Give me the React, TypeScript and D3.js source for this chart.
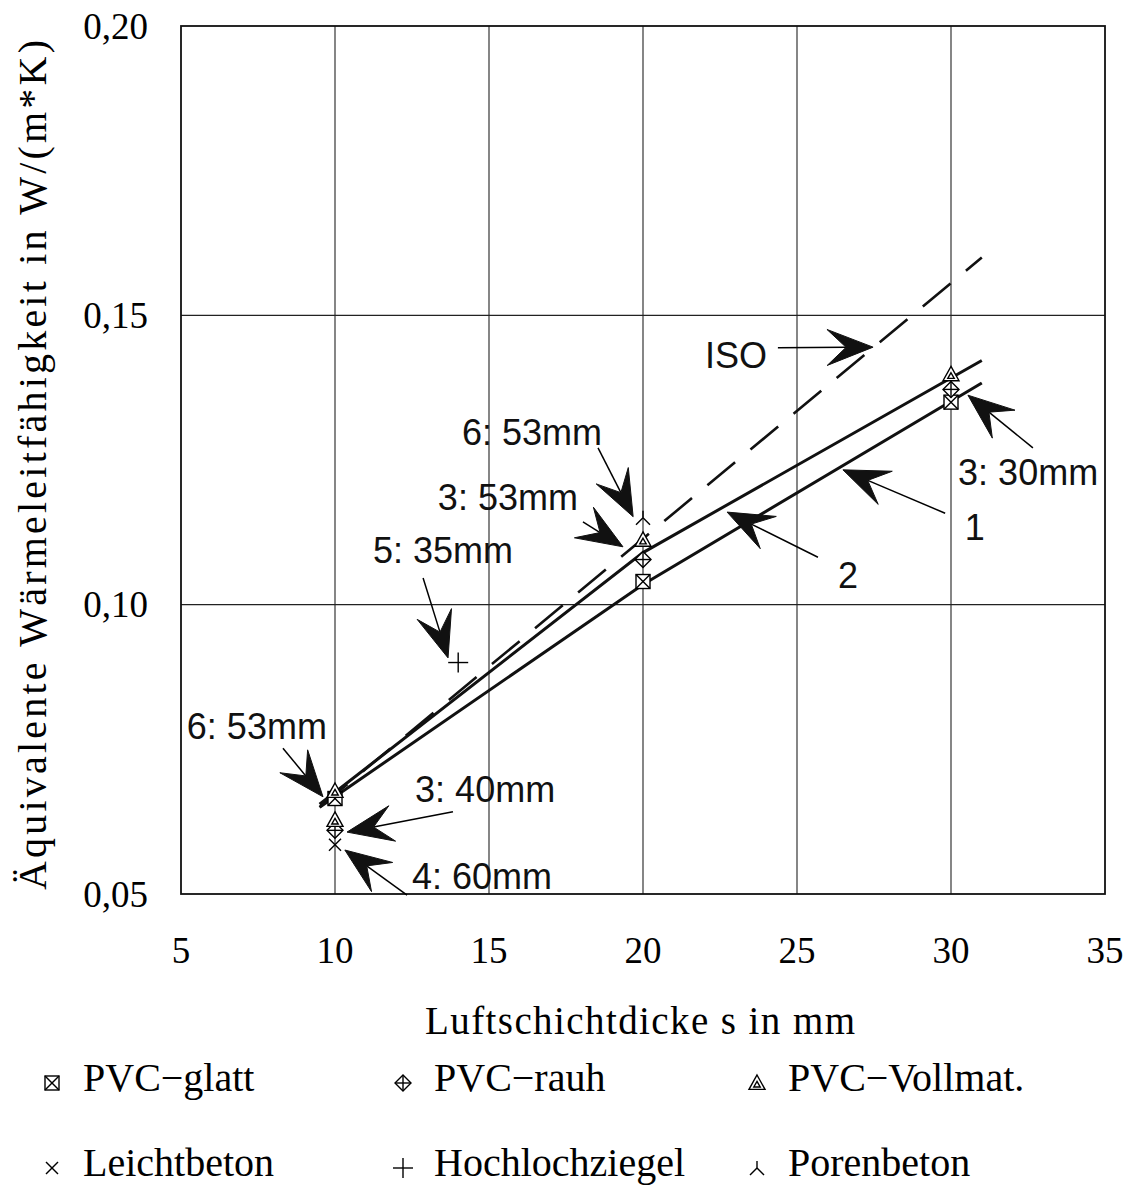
import React from 'react';
import * as d3 from 'd3';

// ---- axes ----
const xTicks = [5, 10, 15, 20, 25, 30, 35];
const yTicks = [0.05, 0.1, 0.15, 0.2];
const xGrid = [10, 15, 20, 25, 30];
const yGrid = [0.1, 0.15];

// ---- lines ----
const line1X = [9.5, 20, 31];
const line1Y = [0.065, 0.1035, 0.1383];
const line2X = [9.5, 20, 31];
const line2Y = [0.0655, 0.109, 0.1422];
const isoX = [9.5, 31];
const isoY = [0.065, 0.16];

// ---- measured points ----
const glattPts: [number, number][] = [[10, 0.0665], [20, 0.104], [30, 0.135]];
const rauhPts: [number, number][] = [[10, 0.061], [20, 0.1078], [30, 0.1372]];
const vollPts: [number, number][] = [[10, 0.0678], [10, 0.0628], [20, 0.1112], [30, 0.1398]];
const leichtPts: [number, number][] = [[10, 0.0585]];
const hochPts: [number, number][] = [[14, 0.09]];
const porenPts: [number, number][] = [[20, 0.115]];

// ---- annotations: label, text pos, tail, tip ----
const annLabels = ['ISO', '6: 53mm', '3: 53mm', '5: 35mm', '6: 53mm', '3: 40mm', '4: 60mm', '3: 30mm', '1', '2'];
const annText: [number, number][] = [
  [22.01, 0.1431], [14.12, 0.1298], [13.34, 0.1186], [11.23, 0.1093], [5.19, 0.0789],
  [12.6, 0.068], [12.5, 0.053], [30.23, 0.1228], [30.45, 0.1134], [26.33, 0.1051],
];
const annTail: [number, number][] = [
  [24.38, 0.1444], [18.54, 0.1271], [18.05, 0.1143], [12.86, 0.1046], [8.31, 0.0752],
  [13.83, 0.0642], [12.34, 0.0498], [32.66, 0.1271], [29.81, 0.1158], [25.68, 0.1082],
];
const annTip: [number, number][] = [
  [27.47, 0.1445], [19.68, 0.1152], [19.35, 0.11], [13.67, 0.0908], [9.61, 0.0668],
  [10.39, 0.0607], [10.32, 0.0576], [30.55, 0.1362], [26.49, 0.1233], [22.73, 0.116],
];

// ---- legend ----
const legendLabels = ['PVC\u2212glatt', 'PVC\u2212rauh', 'PVC\u2212Vollmat.', 'Leichtbeton', 'Hochlochziegel', 'Porenbeton'];
const legendKinds = ['square', 'diamond', 'triangle', 'x', 'plus', 'lambda'];

const x = d3.scaleLinear().domain([5, 35]).range([181, 1105]);
const y = d3.scaleLinear().domain([0.05, 0.2]).range([894, 26]);

const serif = '"Liberation Serif", "Times New Roman", serif';
const sans = '"Liberation Sans", Arial, sans-serif';

function Marker({ kind, cx, cy }: { kind: string; cx: number; cy: number }) {
  const s = 7;
  const st = { stroke: '#000', strokeWidth: 1.4, fill: 'none' } as const;
  if (kind === 'square') {
    return (
      <g {...st}>
        <rect x={cx - s} y={cy - s} width={2 * s} height={2 * s} fill="#fff" />
        <line x1={cx - s} y1={cy - s} x2={cx + s} y2={cy + s} />
        <line x1={cx - s} y1={cy + s} x2={cx + s} y2={cy - s} />
      </g>
    );
  }
  if (kind === 'diamond') {
    const r = 8;
    return (
      <g {...st}>
        <path d={`M${cx},${cy - r}L${cx + r},${cy}L${cx},${cy + r}L${cx - r},${cy}Z`} fill="#fff" />
        <line x1={cx - r} y1={cy} x2={cx + r} y2={cy} />
        <line x1={cx} y1={cy - r} x2={cx} y2={cy + r} />
      </g>
    );
  }
  if (kind === 'triangle') {
    const r = 8;
    return (
      <g {...st}>
        <path d={`M${cx},${cy - r}L${cx + r},${cy + r * 0.8}L${cx - r},${cy + r * 0.8}Z`} fill="#fff" />
        <path d={`M${cx},${cy - r * 0.2}L${cx + r * 0.4},${cy + r * 0.5}L${cx - r * 0.4},${cy + r * 0.5}Z`} />
      </g>
    );
  }
  if (kind === 'x') {
    const r = 6;
    return (
      <g {...st}>
        <line x1={cx - r} y1={cy - r} x2={cx + r} y2={cy + r} />
        <line x1={cx - r} y1={cy + r} x2={cx + r} y2={cy - r} />
      </g>
    );
  }
  if (kind === 'plus') {
    const r = 10;
    return (
      <g {...st}>
        <line x1={cx - r} y1={cy} x2={cx + r} y2={cy} />
        <line x1={cx} y1={cy - r} x2={cx} y2={cy + r} />
      </g>
    );
  }
  // lambda (inverted Y)
  const r = 7;
  return (
    <g {...st}>
      <line x1={cx} y1={cy - r} x2={cx} y2={cy} />
      <line x1={cx} y1={cy} x2={cx - r} y2={cy + r} />
      <line x1={cx} y1={cy} x2={cx + r} y2={cy + r} />
    </g>
  );
}

function Arrow({ tail, tip }: { tail: [number, number]; tip: [number, number] }) {
  const tx = x(tip[0]), ty = y(tip[1]);
  const sx = x(tail[0]), sy = y(tail[1]);
  const dx = sx - tx, dy = sy - ty;
  const len = Math.hypot(dx, dy) || 1;
  const ux = dx / len, uy = dy / len;
  const px = -uy, py = ux;
  const L = 46, W = 18, N = 27;
  const b1 = [tx + ux * L + px * W, ty + uy * L + py * W];
  const b2 = [tx + ux * L - px * W, ty + uy * L - py * W];
  const n = [tx + ux * N, ty + uy * N];
  return (
    <g>
      <line x1={sx} y1={sy} x2={n[0]} y2={n[1]} stroke="#000" strokeWidth={1.5} />
      <path d={`M${tx},${ty}L${b1[0]},${b1[1]}L${n[0]},${n[1]}L${b2[0]},${b2[1]}Z`} fill="#111" stroke="#111" strokeWidth={1} />
    </g>
  );
}

export default function App() {
  const lineGen = d3.line<[number, number]>().x((d) => x(d[0])).y((d) => y(d[1]));
  const l1 = lineGen(line1X.map((v, i) => [v, line1Y[i]] as [number, number])) || '';
  const l2 = lineGen(line2X.map((v, i) => [v, line2Y[i]] as [number, number])) || '';
  const li = lineGen(isoX.map((v, i) => [v, isoY[i]] as [number, number])) || '';

  const pointSets: [string, [number, number][]][] = [
    ['square', glattPts], ['diamond', rauhPts], ['triangle', vollPts],
    ['x', leichtPts], ['plus', hochPts], ['lambda', porenPts],
  ];

  const legendCols = [52, 403, 757];
  const legendRows = [1077, 1162];

  return (
    <svg width={1129} height={1189} style={{ position: 'absolute', left: 0, top: 0, background: '#fff' }}>
      <rect x={0} y={0} width={1129} height={1189} fill="#fff" />
      {/* grid */}
      {xGrid.map((v) => (
        <line key={'gx' + v} x1={x(v)} x2={x(v)} y1={y(0.2)} y2={y(0.05)} stroke="#222" strokeWidth={1.1} />
      ))}
      {yGrid.map((v) => (
        <line key={'gy' + v} x1={x(5)} x2={x(35)} y1={y(v)} y2={y(v)} stroke="#222" strokeWidth={1.4} />
      ))}
      <rect x={x(5)} y={y(0.2)} width={x(35) - x(5)} height={y(0.05) - y(0.2)} fill="none" stroke="#111" strokeWidth={1.8} />

      {/* tick labels */}
      {xTicks.map((v) => (
        <text key={'xt' + v} x={x(v)} y={y(0.05) + 56} textAnchor="middle" dominantBaseline="central" fontFamily={serif} fontSize={37}>
          {v}
        </text>
      ))}
      {yTicks.map((v) => (
        <text key={'yt' + v} x={148} y={y(v)} textAnchor="end" dominantBaseline="central" fontFamily={serif} fontSize={37}>
          {v.toFixed(2).replace('.', ',')}
        </text>
      ))}

      {/* axis titles */}
      <text x={640} y={1020} textAnchor="middle" dominantBaseline="central" fontFamily={serif} fontSize={39} textLength={430} lengthAdjust="spacing">
        Luftschichtdicke s in mm
      </text>
      <text transform={`translate(32,465) rotate(-90)`} textAnchor="middle" dominantBaseline="central" fontFamily={serif} fontSize={40} textLength={850} lengthAdjust="spacing">
        Äquivalente Wärmeleitfähigkeit in W/(m*K)
      </text>

      {/* lines */}
      <path d={li} fill="none" stroke="#111" strokeWidth={2.6} strokeDasharray="36 20" />
      <path d={l2} fill="none" stroke="#111" strokeWidth={3} />
      <path d={l1} fill="none" stroke="#111" strokeWidth={3} />

      {/* markers */}
      {pointSets.map(([kind, pts]) =>
        pts.map((p, i) => <Marker key={kind + i} kind={kind} cx={x(p[0])} cy={y(p[1])} />)
      )}

      {/* annotations */}
      {annLabels.map((lab, i) => (
        <g key={'ann' + i}>
          <Arrow tail={annTail[i]} tip={annTip[i]} />
          <text x={x(annText[i][0])} y={y(annText[i][1])} dominantBaseline="central" fontFamily={sans} fontSize={36} fill="#111">
            {lab}
          </text>
        </g>
      ))}

      {/* legend */}
      {legendLabels.map((lab, i) => {
        const cx = legendCols[i % 3];
        const cy = legendRows[Math.floor(i / 3)];
        return (
          <g key={'leg' + i}>
            <Marker kind={legendKinds[i]} cx={cx} cy={cy + 6} />
            <text x={cx + 31} y={cy} dominantBaseline="central" fontFamily={serif} fontSize={40}>
              {lab}
            </text>
          </g>
        );
      })}
    </svg>
  );
}
